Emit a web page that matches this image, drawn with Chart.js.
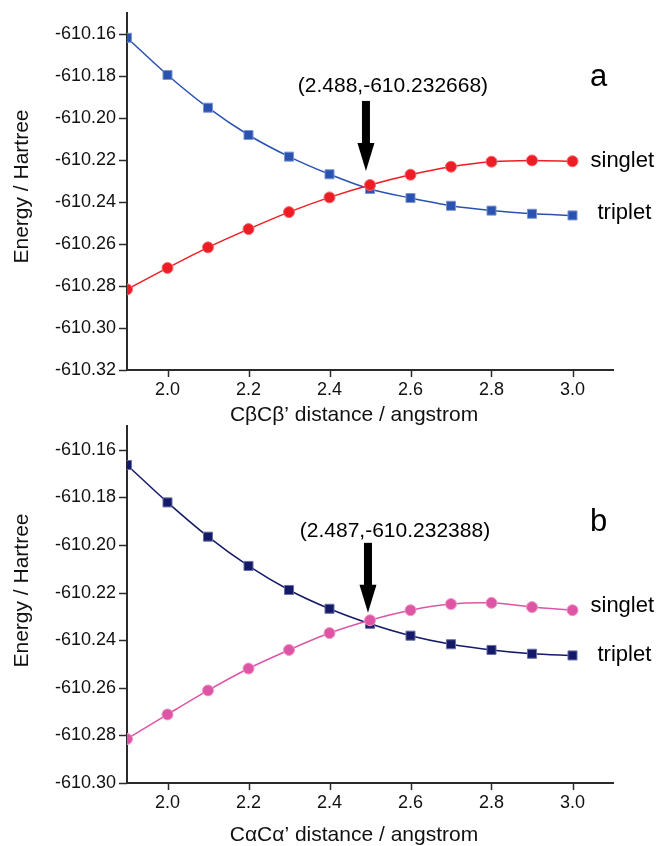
<!DOCTYPE html>
<html>
<head>
<meta charset="utf-8">
<script src="https://cdn.jsdelivr.net/npm/chart.js@4.4.1/dist/chart.umd.min.js"></script>
<style>
    html, body { margin: 0; padding: 0; background: #fff; }
    body { width: 656px; height: 846px; position: relative; overflow: hidden; }
    .panel { position: absolute; left: 0; width: 656px; }
    #panelA { top: 0; height: 430px; }
    #panelB { top: 420px; height: 426px; }
</style>
</head>
<body>
<div class="panel" id="panelA"><canvas id="chartA"></canvas></div>
<div class="panel" id="panelB"><canvas id="chartB"></canvas></div>

<script>
// Datos
const distancias = [1.9, 2.0, 2.1, 2.2, 2.3, 2.4, 2.5, 2.6, 2.7, 2.8, 2.9, 3.0];

// Panel a: CβCβ'
const tripleteA = [-610.1618, -610.1795, -610.1951, -610.2081, -610.2184, -610.2268,
                   -610.2338, -610.2381, -610.2418, -610.2441, -610.2456, -610.2464];
const singleteA = [-610.2816, -610.2714, -610.2616, -610.2529, -610.2448, -610.2378,
                   -610.2319, -610.2270, -610.2232, -610.2208, -610.2202, -610.2206];

// Panel b: CαCα'
const tripleteB = [-610.1664, -610.1821, -610.1965, -610.2088, -610.2189, -610.2268,
                   -610.2331, -610.2381, -610.2417, -610.2441, -610.2457, -610.2464];
const singleteB = [-610.2815, -610.2712, -610.2611, -610.2519, -610.2441, -610.2370,
                   -610.2316, -610.2274, -610.2248, -610.2243, -610.2261, -610.2274];

// Ejes
const rangoX = [1.9, 3.1];
const rangoYA = [-610.32, -610.15];
const rangoYB = [-610.30, -610.15];

// Cruce señalado por la flecha (x, energía de la punta)
const cruceA = { x: 2.49, yPunta: -610.2252, texto: '(2.488,-610.232668)', letra: 'a' };
const cruceB = { x: 2.495, yPunta: -610.2285, texto: '(2.487,-610.232388)', letra: 'b' };

const FUENTE = "'Liberation Sans', Arial, sans-serif";
const COLOR_EJE = '#2b2b2b';

// Quitar el relleno automatico de las etiquetas extremas
function sinRelleno(s) {
    s.paddingTop = 0;
    s.paddingBottom = 0;
    s.paddingLeft = 0;
    s.paddingRight = 0;
}

// Marcas de los ejes (mayores y menores)
const marcasPlugin = {
    id: 'marcas',
    afterDraw(chart) {
        const ctx = chart.ctx;
        const { x, y } = chart.scales;
        ctx.save();
        ctx.strokeStyle = COLOR_EJE;
        ctx.lineWidth = 1.5;
        y.ticks.forEach(t => {
            const py = Math.round(y.getPixelForValue(t.value)) + 0.5;
            const mayor = Math.round(t.value * 100) % 2 === 0;
            const largo = mayor ? 8 : 4;
            ctx.beginPath();
            ctx.moveTo(y.right, py);
            ctx.lineTo(y.right - largo, py);
            ctx.stroke();
        });
        x.ticks.forEach(t => {
            const px = Math.round(x.getPixelForValue(t.value)) + 0.5;
            const mayor = Math.round(t.value * 10) % 2 === 0;
            const largo = mayor ? 7 : 4;
            ctx.beginPath();
            ctx.moveTo(px, x.top);
            ctx.lineTo(px, x.top + largo);
            ctx.stroke();
        });
        ctx.restore();
    }
};

// Anotaciones: flecha, coordenadas, letra del panel, nombres de curvas y títulos
const anotacionesPlugin = {
    id: 'anotaciones',
    afterDatasetsDraw(chart, args, opts) {
        const ctx = chart.ctx;
        const { x, y } = chart.scales;
        const area = chart.chartArea;
        const ds = chart.data.datasets;
        const ultimo = ds[0].data.length - 1;

        const ax = x.getPixelForValue(opts.cruce.x);
        const punta = y.getPixelForValue(opts.cruce.yPunta);
        const tope = punta - 70;

        ctx.save();
        ctx.fillStyle = '#000';
        // flecha
        ctx.fillRect(ax - 4, tope, 8, 43);
        ctx.beginPath();
        ctx.moveTo(ax - 8.5, tope + 42);
        ctx.lineTo(ax + 8.5, tope + 42);
        ctx.lineTo(ax, punta);
        ctx.closePath();
        ctx.fill();

        // coordenadas del cruce
        const yTexto = tope - opts.sepTexto;
        ctx.font = '21px ' + FUENTE;
        ctx.textAlign = 'center';
        ctx.textBaseline = 'middle';
        ctx.fillText(opts.cruce.texto, ax + 27, yTexto);

        // letra del panel
        ctx.font = '31px ' + FUENTE;
        ctx.textAlign = 'left';
        ctx.textBaseline = 'alphabetic';
        ctx.fillText(opts.cruce.letra, area.right - 23, yTexto);

        // etiquetas de curvas
        ctx.font = '22px ' + FUENTE;
        ctx.textBaseline = 'middle';
        const xFin = x.getPixelForValue(distancias[ultimo]);
        ctx.fillText('singlet', xFin + 18, y.getPixelForValue(ds[1].data[ultimo].y) + opts.dySinglete);
        ctx.fillText('triplet', xFin + 25, y.getPixelForValue(ds[0].data[ultimo].y) + opts.dyTriplete);

        // título del eje X
        ctx.font = '21px ' + FUENTE;
        ctx.textAlign = 'center';
        ctx.fillStyle = '#111';
        ctx.fillText(opts.tituloX, (area.left + area.right) / 2 - 16, x.top + opts.dyTituloX);

        // título del eje Y
        ctx.translate(22, (area.top + area.bottom) / 2 + opts.dyTituloY);
        ctx.rotate(-Math.PI / 2);
        ctx.fillText('Energy / Hartree', 0, 0);
        ctx.restore();
    }
};

function crearPanel(id, cfg) {
    const ctx = document.getElementById(id).getContext('2d');
    return new Chart(ctx, {
        type: 'line',
        data: {
            labels: distancias,
            datasets: [
                {
                    label: 'triplet',
                    data: distancias.map((d, i) => ({ x: d, y: cfg.triplete[i] })),
                    borderColor: cfg.colorT,
                    backgroundColor: cfg.colorT,
                    pointBorderColor: cfg.bordeT,
                    pointStyle: 'rect',
                    pointRadius: 6.4,
                    pointBorderWidth: 1,
                    borderWidth: 1.5,
                    tension: 0.3,
                    clip: 0,
                    order: 2
                },
                {
                    label: 'singlet',
                    data: distancias.map((d, i) => ({ x: d, y: cfg.singlete[i] })),
                    borderColor: cfg.colorS,
                    backgroundColor: cfg.colorS,
                    pointBorderColor: cfg.bordeS,
                    pointStyle: 'circle',
                    pointRadius: 5.5,
                    pointBorderWidth: 1,
                    borderWidth: 1.5,
                    tension: 0.3,
                    clip: 0,
                    order: 1
                }
            ]
        },
        options: {
            responsive: true,
            maintainAspectRatio: false,
            animation: false,
            layout: { autoPadding: false, padding: { top: cfg.arriba, right: 43, left: 0, bottom: 0 } },
            plugins: {
                legend: { display: false },
                tooltip: { enabled: false },
                anotaciones: cfg.anot
            },
            scales: {
                x: {
                    type: 'linear',
                    min: rangoX[0],
                    max: rangoX[1],
                    afterFit: s => { s.height = cfg.altoX; sinRelleno(s); },
                    grid: { display: false, drawTicks: false },
                    border: { display: true, color: COLOR_EJE, width: 2 },
                    ticks: {
                        stepSize: 0.1,
                        padding: 9,
                        autoSkip: false,
                        maxRotation: 0,
                        color: '#111',
                        font: { family: FUENTE, size: 18 },
                        callback: v => Math.round(v * 10) % 2 === 0 ? v.toFixed(1) : null
                    }
                },
                y: {
                    min: cfg.rangoY[0],
                    max: cfg.rangoY[1],
                    afterFit: s => { s.width = 127; sinRelleno(s); },
                    grid: { display: false, drawTicks: false },
                    border: { display: true, color: COLOR_EJE, width: 2 },
                    ticks: {
                        stepSize: 0.01,
                        padding: 11,
                        autoSkip: false,
                        color: '#111',
                        font: { family: FUENTE, size: 18 },
                        callback: v => Math.round(v * 100) % 2 === 0 ? v.toFixed(2) : null
                    }
                }
            }
        },
        plugins: [marcasPlugin, anotacionesPlugin]
    });
}

crearPanel('chartA', {
    triplete: tripleteA,
    singlete: singleteA,
    colorT: '#2a52b0', bordeT: '#7d95d0',
    colorS: '#ee1c24', bordeS: '#f56a6e',
    rangoY: rangoYA,
    arriba: 13,
    altoX: 60,
    anot: { cruce: cruceA, sepTexto: 15, dySinglete: 0, dyTriplete: -3,
            tituloX: 'CβCβ’ distance / angstrom', dyTituloX: 45, dyTituloY: -5 }
});

crearPanel('chartB', {
    triplete: tripleteB,
    singlete: singleteB,
    colorT: '#151a68', bordeT: '#6a70a8',
    colorS: '#de55a6', bordeS: '#ec95c6',
    rangoY: rangoYB,
    arriba: 6,
    altoX: 63,
    anot: { cruce: cruceB, sepTexto: 12, dySinglete: -4, dyTriplete: 0,
            tituloX: 'CαCα’ distance / angstrom', dyTituloX: 52, dyTituloY: -14 }
});
</script>
</body>
</html>
